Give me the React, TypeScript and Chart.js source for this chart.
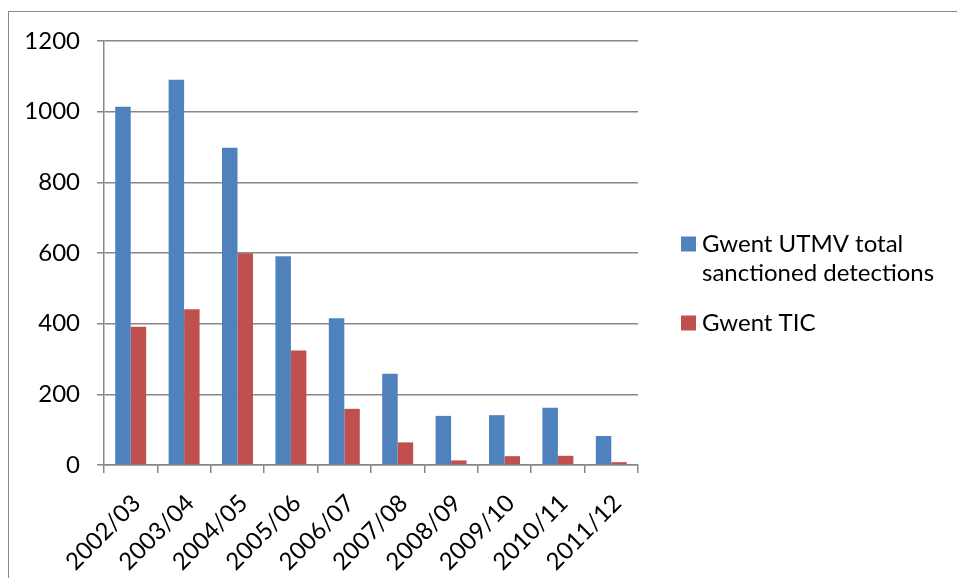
import React, { useEffect, useRef } from "react";
import { Chart, registerables } from "chart.js";

Chart.register(...registerables);

// Financial years on the category axis
const periods = [
  "2002/03",
  "2003/04",
  "2004/05",
  "2005/06",
  "2006/07",
  "2007/08",
  "2008/09",
  "2009/10",
  "2010/11",
  "2011/12",
];

// Gwent UTMV total sanctioned detections per year
const utmvDetections = [1014, 1090, 898, 591, 415, 258, 139, 141, 162, 82];

// Gwent TIC per year
const ticDetections = [391, 441, 599, 324, 159, 64, 13, 25, 26, 8];

const seriesNames = ["Gwent UTMV total sanctioned detections", "Gwent TIC"];
// Legend text broken into the lines it is shown on
const legendLines = [["Gwent UTMV total", "sanctioned detections"], ["Gwent TIC"]];

const yMin = 0;
const yMax = 1200;
const yStep = 200;

const BLUE = "#4F81BD";
const RED = "#C0504D";
const GRID = "#878787";
const FONT = "Lato, 'Open Sans', sans-serif";
const FONT_SIZE = 24;

// White page with the thin grey outline of the chart object
const framePlugin = {
  id: "frame",
  beforeDraw(chart: any) {
    const ctx = chart.ctx;
    ctx.save();
    ctx.fillStyle = "#ffffff";
    ctx.fillRect(0, 0, chart.width, chart.height);
    ctx.strokeStyle = GRID;
    ctx.lineWidth = 1;
    ctx.strokeRect(8.5, 11.5, chart.width + 50, chart.height + 50);
    ctx.restore();
  },
};

// Legend on the right, with wrapped series names
const sideLegendPlugin = {
  id: "sideLegend",
  afterDraw(chart: any) {
    const ctx = chart.ctx;
    const boxX = 681;
    const textX = 702;
    const box = 15;
    const lineHeight = 29;
    const itemGap = 21;
    let y = 244;
    ctx.save();
    ctx.font = `${FONT_SIZE}px ${FONT}`;
    ctx.textBaseline = "middle";
    ctx.textAlign = "left";
    chart.data.datasets.forEach((ds: any, i: number) => {
      ctx.fillStyle = ds.backgroundColor;
      ctx.fillRect(boxX, y - box / 2, box, box);
      ctx.fillStyle = "#000000";
      const lines = legendLines[i];
      lines.forEach((line: string, j: number) => {
        ctx.fillText(line, textX, y + j * lineHeight);
      });
      y += lines.length * lineHeight + itemGap;
    });
    ctx.restore();
  },
};

export default function App() {
  const canvasRef = useRef<HTMLCanvasElement | null>(null);

  useEffect(() => {
    const canvas = canvasRef.current;
    if (!canvas) return;
    const chart = new Chart(canvas, {
      type: "bar",
      data: {
        labels: periods,
        datasets: [
          {
            label: seriesNames[0],
            data: utmvDetections,
            backgroundColor: BLUE,
            categoryPercentage: 0.58,
            barPercentage: 1,
          },
          {
            label: seriesNames[1],
            data: ticDetections,
            backgroundColor: RED,
            categoryPercentage: 0.58,
            barPercentage: 1,
          },
        ],
      },
      options: {
        responsive: false,
        animation: false,
        layout: {
          padding: { left: 0, right: 319, top: 41, bottom: 0 },
        },
        plugins: {
          legend: { display: false },
          tooltip: { enabled: false },
        },
        scales: {
          x: {
            grid: {
              drawOnChartArea: false,
              drawTicks: true,
              tickLength: 8,
              color: GRID,
              lineWidth: 1.5,
              offset: true,
            },
            border: { color: GRID, width: 1.5 },
            ticks: {
              maxRotation: 45,
              minRotation: 45,
              padding: 16,
              labelOffset: 6,
              color: "#000000",
              font: { family: FONT, size: FONT_SIZE },
            },
            afterFit(scale: any) {
              scale.height = 113;
            },
          },
          y: {
            min: yMin,
            max: yMax,
            ticks: {
              stepSize: yStep,
              padding: 17,
              color: "#000000",
              font: { family: FONT, size: FONT_SIZE },
              callback: (value: any) => String(value),
            },
            grid: {
              color: GRID,
              lineWidth: 1.5,
              tickLength: 7,
              drawTicks: true,
            },
            border: { color: GRID, width: 1.5 },
            afterFit(scale: any) {
              scale.width = 104;
            },
          },
        },
      },
      plugins: [framePlugin, sideLegendPlugin],
    });
    return () => chart.destroy();
  }, []);

  return (
    <div style={{ position: "absolute", left: 0, top: 0, width: 957, height: 578 }}>
      <canvas ref={canvasRef} width={957} height={578} style={{ display: "block" }} />
    </div>
  );
}
